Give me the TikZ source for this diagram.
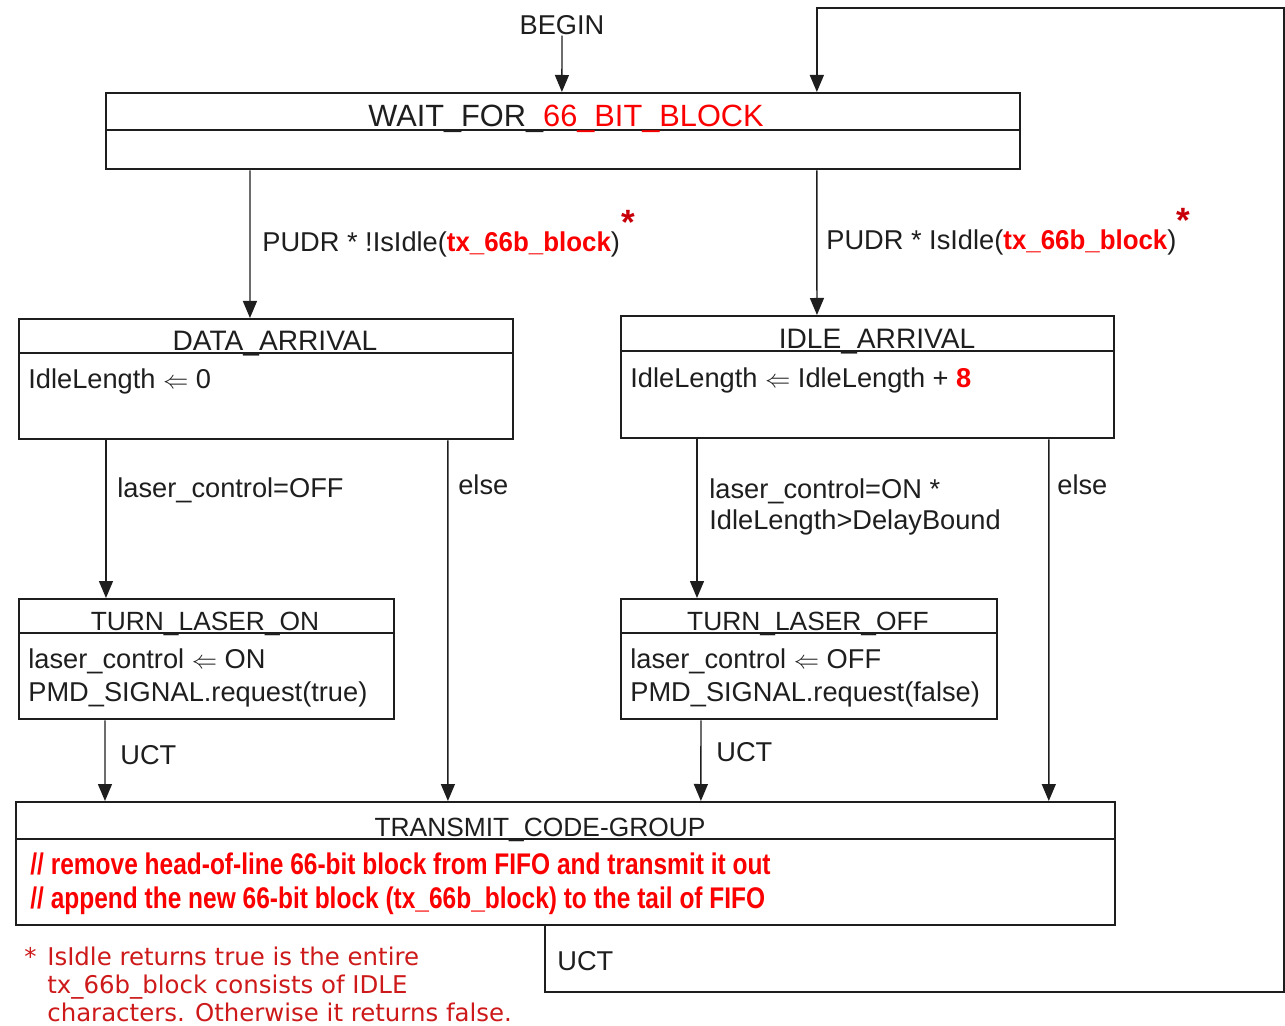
\documentclass[tikz,border=0pt]{standalone}
\usepackage{fontspec}
\setmainfont{Liberation Sans}
\newfontfamily\codefont[FakeStretch=0.82]{Liberation Sans Bold}
\newfontfamily\tagfont[FakeStretch=0.95]{Liberation Sans Bold}
\newfontfamily\notefont{DejaVu Sans}
\usetikzlibrary{arrows.meta,positioning}
\definecolor{ink}{RGB}{30,30,30}
\definecolor{hotred}{RGB}{250,0,0}
\definecolor{starred}{RGB}{200,0,10}
\definecolor{notered}{RGB}{205,25,25}
\tikzset{
  statebox/.style={draw=ink,line width=1.3pt,inner sep=0pt,anchor=north west},
  divider/.style={draw=ink,line width=1.1pt},
  statetitle/.style={anchor=base,inner sep=0pt,text=ink,font=\fontsize{16}{19}\selectfont},
  smalltitle/.style={statetitle,font=\fontsize{15}{18}\selectfont},
  statebody/.style={anchor=base west,inner sep=0pt,text=ink,align=left,font=\fontsize{15.5}{19.3}\selectfont},
  translabel/.style={anchor=base west,inner sep=0pt,text=ink,align=left,font=\fontsize{15.5}{18.1}\selectfont},
  startag/.style={inner sep=0pt,text=starred,font=\fontsize{20}{20}\bfseries},
  transarrow/.style={draw=ink,line width=0.8pt,-{Triangle[width=0.28cm,length=0.34cm]}}
}
\newcommand{\txblock}{{\color{hotred}\tagfont tx\_66b\_block}}
\begin{document}
\begin{tikzpicture}[x=0.02cm,y=-0.02cm]
 \useasboundingbox (0,0) rectangle (1285,1026);
 % states
 \node[statebox,minimum width=18.28cm,minimum height=1.52cm] (wait) at (105,92) {};
 \node[statebox,minimum width=9.88cm,minimum height=2.4cm] (data) at (18,318) {};
 \node[statebox,minimum width=9.86cm,minimum height=2.44cm] (idle) at (620,315) {};
 \node[statebox,minimum width=7.5cm,minimum height=2.4cm] (laseron) at (18,598) {};
 \node[statebox,minimum width=7.52cm,minimum height=2.4cm] (laseroff) at (620,598) {};
 \node[statebox,minimum width=21.98cm,minimum height=2.46cm] (tx) at (15,801) {};
 \draw[divider] ([yshift=-0.76cm]wait.north west) -- ([yshift=-0.76cm]wait.north east);
 \draw[divider] ([yshift=-0.7cm]data.north west) -- ([yshift=-0.7cm]data.north east);
 \draw[divider] ([yshift=-0.72cm]idle.north west) -- ([yshift=-0.72cm]idle.north east);
 \draw[divider] ([yshift=-0.7cm]laseron.north west) -- ([yshift=-0.7cm]laseron.north east);
 \draw[divider] ([yshift=-0.7cm]laseroff.north west) -- ([yshift=-0.7cm]laseroff.north east);
 \draw[divider] ([yshift=-0.76cm]tx.north west) -- ([yshift=-0.76cm]tx.north east);
 % titles and actions
 \node[statetitle,font=\fontsize{17.5}{20}\selectfont] (waitname) at (566,127) {WAIT\_FOR\_{\color{hotred}66\_BIT\_BLOCK}};
 \node[statetitle] (dataname) at (275,351) {DATA\_ARRIVAL};
 \node[statetitle] (idlename) at (877,349) {IDLE\_ARRIVAL};
 \node[smalltitle] (onname) at (205,631) {TURN\_LASER\_ON};
 \node[smalltitle] (offname) at (808,631) {TURN\_LASER\_OFF};
 \node[smalltitle] (txname) at (540,836) {TRANSMIT\_CODE-GROUP};
 \node[statebody] (dataact) at (28,389) {IdleLength $\Leftarrow$ 0};
 \node[statebody] (idleact) at (630,388) {IdleLength $\Leftarrow$ IdleLength + {\color{hotred}\bfseries 8}};
 \node[statebody] (onact) at (28,702) {laser\_control $\Leftarrow$ ON\\PMD\_SIGNAL.request(true)};
 \node[statebody] (offact) at (630,702) {laser\_control $\Leftarrow$ OFF\\PMD\_SIGNAL.request(false)};
 \node[statebody,text=hotred,font=\fontsize{17}{19.3}\codefont] (txact) at (30,908)
   {// remove head-of-line 66-bit block from FIFO and transmit it out\\// append the new 66-bit block (tx\_66b\_block) to the tail of FIFO};
 % transitions
 \node[statetitle,font=\fontsize{15.5}{18}\selectfont] (begin) at (562,35) {BEGIN};
 \draw[transarrow] (begin.south) -- ([xshift=9.14cm]wait.north west);
 \draw[transarrow] ([xshift=2.9cm]wait.south west) -- ([xshift=4.64cm]data.north west);
 \draw[transarrow] ([xshift=14.24cm]wait.south west) -- ([xshift=3.94cm]idle.north west);
 \draw[transarrow] ([xshift=1.76cm]data.south west) -- ([xshift=1.76cm]laseron.north west);
 \draw[transarrow] ([xshift=8.6cm]data.south west) -- ([xshift=8.66cm]tx.north west);
 \draw[transarrow] ([xshift=1.54cm]idle.south west) -- ([xshift=1.54cm]laseroff.north west);
 \draw[transarrow] ([xshift=8.58cm]idle.south west) -- ([xshift=20.68cm]tx.north west);
 \draw[transarrow] ([xshift=1.74cm]laseron.south west) -- ([xshift=1.8cm]tx.north west);
 \draw[transarrow] ([xshift=1.62cm]laseroff.south west) -- ([xshift=13.72cm]tx.north west);
 \coordinate (loopa) at (1284,992);
 \coordinate (loopb) at (1284,8);
 \draw[transarrow] ([xshift=10.6cm]tx.south west) |- (loopa) -- (loopb) -| ([xshift=14.24cm]wait.north west);
 % conditions
 \node[translabel] (notidle) at (262,252) {PUDR * !IsIdle(\txblock)};
 \node[startag] (notidlestar) at (628,222) {*};
 \node[translabel] (isidle) at (826,250) {PUDR * IsIdle(\txblock)};
 \node[startag] (isidlestar) at (1183,220) {*};
 \node[translabel] (offcond) at (117,498) {laser\_control=OFF};
 \node[translabel] (elsea) at (458,495) {else};
 \node[translabel] (oncond) at (709,530) {laser\_control=ON *\\IdleLength>DelayBound};
 \node[translabel] (elseb) at (1057,495) {else};
 \node[translabel] (ucta) at (120,765) {UCT};
 \node[translabel] (uctb) at (716,762) {UCT};
 \node[translabel] (uctc) at (557,970) {UCT};
 % footnote
 \node[anchor=base west,inner sep=0pt,text=notered,font=\fontsize{13.9}{15.9}\notefont] (notestar) at (24,965) {*};
 \node[anchor=base west,inner sep=0pt,text=notered,align=left,font=\fontsize{13.9}{15.9}\notefont] (note) at (47,1021)
   {IsIdle returns true is the entire\\tx\_66b\_block consists of IDLE\\characters. Otherwise it returns false.};
\end{tikzpicture}
\end{document}
